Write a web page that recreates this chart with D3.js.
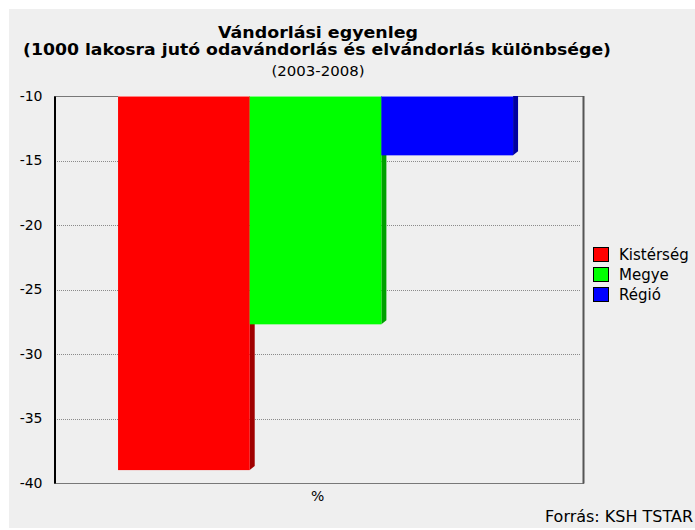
<!DOCTYPE html>
<html>
<head>
<meta charset="utf-8">
<script src="https://cdn.jsdelivr.net/npm/d3@7/dist/d3.min.js"></script>
<style>
  body { margin: 0; background: #fff; }
  text { font-family: "DejaVu Sans", Verdana, sans-serif; fill: #000; }
</style>
</head>
<body>
<div id="chart"></div>
<script>
// data
var groups = ["%"];
var series = ["Kistérség", "Megye", "Régió"];
var values = [-39.0, -27.7, -14.6];
var colors = ["#ff0000", "#00ff00", "#0000ff"];
var sideColors = ["#a00000", "#00a000", "#0000a0"];
var topColors = ["#ff8080", "#80ff80", "#8080ff"];
var yTicks = [-10, -15, -20, -25, -30, -35, -40];

var W = 695, H = 530;
var margin = {top: 96, left: 54, right: 112, bottom: 47};

var svg = d3.select("#chart").append("svg")
    .attr("width", W)
    .attr("height", H);

// panel background
svg.append("rect")
    .attr("x", 9).attr("y", 9)
    .attr("width", W - 9).attr("height", H - 11)
    .attr("fill", "#efefef");

var y = d3.scaleLinear()
    .domain([-10, -40])
    .range([margin.top, H - margin.bottom]);

var x0 = d3.scaleBand()
    .domain(groups)
    .range([margin.left, W - margin.right])
    .paddingOuter(0.1696)
    .align(0.478);

var x1 = d3.scaleBand()
    .domain(series)
    .range([0, x0.bandwidth()]);

// grid lines
svg.append("g")
    .selectAll("line")
    .data(yTicks.slice(1, -1))
    .enter()
    .append("line")
    .attr("x1", margin.left + 1)
    .attr("x2", W - margin.right - 3)
    .attr("y1", function (d) { return Math.round(y(d)) + 0.5; })
    .attr("y2", function (d) { return Math.round(y(d)) + 0.5; })
    .attr("stroke", "#8a8a8a")
    .attr("stroke-dasharray", "1,1");

// frame
var xl = margin.left + 0.5, xr = W - margin.right + 0.5;
var yt = Math.round(y(-10)) + 0.5, yb = Math.round(y(-40)) + 0.5;
svg.append("line").attr("x1", xl).attr("x2", xr).attr("y1", yt).attr("y2", yt)
    .attr("stroke", "#000").attr("stroke-dasharray", "1,1");
svg.append("line").attr("x1", xl).attr("x2", xr).attr("y1", yb).attr("y2", yb)
    .attr("stroke", "#000").attr("stroke-dasharray", "1,1");
svg.append("line").attr("x1", xr).attr("x2", xr).attr("y1", yt - 0.5).attr("y2", yb)
    .attr("stroke", "#555").attr("stroke-width", 2);

// bars
var bars = svg.append("g")
    .selectAll("g")
    .data(values)
    .enter()
    .append("g");

var depth = 5;

bars.append("polygon")
    .attr("points", function (d, i) {
        var xe = x0(groups[0]) + x1(series[i]) + x1.bandwidth();
        var t = y(-10), b = y(d);
        return [[xe, t], [xe + depth, t], [xe + depth, b - depth + 1], [xe, b]].join(" ");
    })
    .attr("fill", function (d, i) { return sideColors[i]; });

bars.append("rect")
    .attr("x", function (d, i) { return x0(groups[0]) + x1(series[i]); })
    .attr("y", y(-10))
    .attr("width", x1.bandwidth())
    .attr("height", function (d) { return y(d) - y(-10); })
    .attr("fill", function (d, i) { return colors[i]; });

bars.append("rect")
    .attr("x", function (d, i) { return x0(groups[0]) + x1(series[i]); })
    .attr("y", y(-10))
    .attr("width", x1.bandwidth())
    .attr("height", 1)
    .attr("fill", function (d, i) { return topColors[i]; });

// left axis (plain hyphen as in the original)
var yAxis = svg.append("g")
    .attr("transform", "translate(" + xl + ",0)")
    .call(d3.axisLeft(y).tickValues(yTicks).tickSize(0).tickPadding(12)
        .tickFormat(function (d) { return String(d); }));
yAxis.select(".domain").attr("stroke", "#000").attr("stroke-width", 2);
yAxis.selectAll("text")
    .style("font-size", "14px")
    .style("font-family", "DejaVu Sans, Verdana, sans-serif");

// x label
svg.append("text")
    .attr("x", x0(groups[0]) + x0.bandwidth() / 2 + 2)
    .attr("y", 501)
    .attr("text-anchor", "middle")
    .style("font-size", "14px")
    .text(groups[0]);

// titles
svg.append("text")
    .attr("x", 318).attr("y", 38)
    .attr("text-anchor", "middle")
    .attr("textLength", 200).attr("lengthAdjust", "spacingAndGlyphs")
    .style("font-size", "15px").style("font-weight", "bold")
    .text("Vándorlási egyenleg");
svg.append("text")
    .attr("x", 317).attr("y", 55)
    .attr("text-anchor", "middle")
    .attr("textLength", 588).attr("lengthAdjust", "spacingAndGlyphs")
    .style("font-size", "15px").style("font-weight", "bold")
    .text("(1000 lakosra jutó odavándorlás és elvándorlás különbsége)");
svg.append("text")
    .attr("x", 318).attr("y", 76)
    .attr("text-anchor", "middle")
    .attr("textLength", 93).attr("lengthAdjust", "spacingAndGlyphs")
    .style("font-size", "14px")
    .text("(2003-2008)");

// legend
var legend = svg.append("g")
    .selectAll("g")
    .data(series)
    .enter()
    .append("g")
    .attr("transform", function (d, i) { return "translate(593," + (247 + i * 20) + ")"; });

legend.append("rect")
    .attr("x", 0.5).attr("y", 0.5)
    .attr("width", 15).attr("height", 14)
    .attr("fill", function (d, i) { return colors[i]; })
    .attr("stroke", "#000");

legend.append("text")
    .attr("x", 26).attr("y", 12.5)
    .style("font-size", "15px")
    .text(function (d) { return d; });

// source
svg.append("text")
    .attr("x", 693).attr("y", 522)
    .attr("text-anchor", "end")
    .attr("textLength", 148).attr("lengthAdjust", "spacingAndGlyphs")
    .style("font-size", "15px")
    .text("Forrás: KSH TSTAR");
</script>
</body>
</html>
